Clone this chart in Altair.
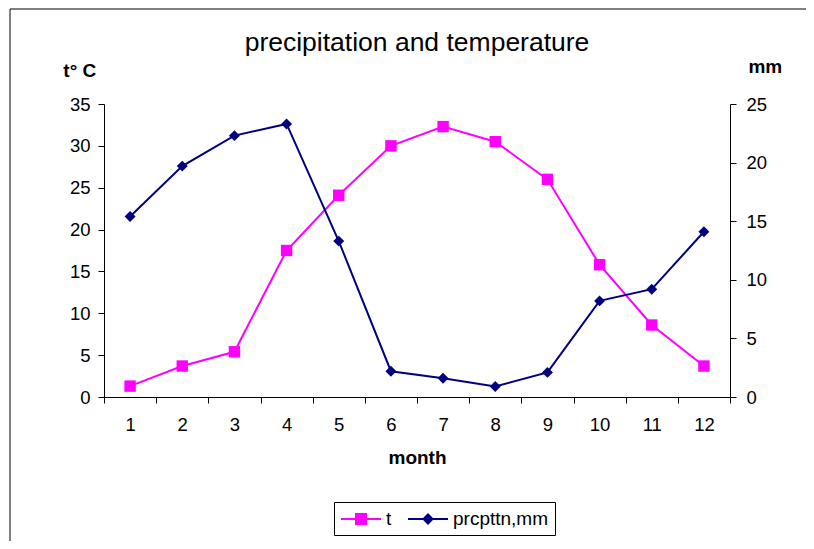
import altair as alt
import pandas as pd

months = [1, 2, 3, 4, 5, 6, 7, 8, 9, 10, 11, 12]
temperature = [1.3, 3.7, 5.4, 17.5, 24.1, 30.0, 32.3, 30.5, 26.0, 15.8, 8.6, 3.7]
precipitation = [15.4, 19.7, 22.3, 23.3, 13.3, 2.2, 1.6, 0.9, 2.1, 8.2, 9.2, 14.1]
series_names = ["t", "prcpttn,mm"]
series_colors = ["#FF00FF", "#000080"]
x_tick_values = [0.5 + 0.5 * i for i in range(25)]
temp_ticks = [0, 5, 10, 15, 20, 25, 30, 35]
precip_ticks = [0, 5, 10, 15, 20, 25]

df = pd.DataFrame({"month": months, "t": temperature, "p": precipitation})

FONT = "Liberation Sans"

x_enc = alt.X(
    "month:Q",
    scale=alt.Scale(domain=[0.5, 12.5], nice=False, zero=False),
    axis=alt.Axis(
        values=x_tick_values,
        labelExpr="datum.value % 1 === 0 ? format(datum.value, 'd') : ''",
        labelOverlap=False,
        labelFlush=False,
        tickOpacity={"condition": {"test": "datum.value % 1 !== 0", "value": 1}, "value": 0},
        title="month",
        titleFontWeight="bold",
        titleFontSize=19,
        titleBaseline="alphabetic",
        titleY=66,
        titleX=313,
        titleAlign="center",
        labelPadding=12,
        grid=False,
    ),
)

base = alt.Chart(df)

t_y = alt.Y(
    "t:Q",
    scale=alt.Scale(domain=[0, 35], nice=False),
    axis=alt.Axis(
        orient="left",
        values=temp_ticks,
        title="t° C",
        titleAngle=0,
        titleFontWeight="bold",
        titleFontSize=19,
        titleX=-24.7,
        titleY=-27.3,
        titleAlign="center",
        titleBaseline="alphabetic",
        labelPadding=8,
        grid=False,
    ),
)
t_line = base.mark_line(color=series_colors[0], strokeWidth=2).encode(x=x_enc, y=t_y)
t_pts = base.mark_point(shape="square", filled=True, size=130, opacity=1, color=series_colors[0]).encode(x=x_enc, y=t_y)
t_layer = alt.layer(t_line, t_pts)

p_y = alt.Y(
    "p:Q",
    scale=alt.Scale(domain=[0, 25], nice=False),
    axis=alt.Axis(
        orient="right",
        values=precip_ticks,
        title="mm",
        titleAngle=0,
        titleFontWeight="bold",
        titleFontSize=19,
        titleX=34.8,
        titleY=-31.3,
        titleAlign="center",
        titleBaseline="alphabetic",
        labelPadding=10,
        grid=False,
    ),
)
p_line = base.mark_line(color=series_colors[1], strokeWidth=2).encode(x=x_enc, y=p_y)
p_pts = base.mark_point(shape="diamond", filled=True, size=120, opacity=1, color=series_colors[1]).encode(x=x_enc, y=p_y)
p_layer = alt.layer(p_line, p_pts)

legend_shapes = [
    "M-1,0H3M0.5,-0.5H1.5V0.5H0.5Z",
    "M-1,0H3M1,-0.45L1.45,0L1,0.45L0.55,0Z",
]
leg = alt.Legend(
    orient="none",
    legendX=230,
    legendY=398,
    direction="horizontal",
    title=None,
    strokeColor="black",
    padding=6,
    labelFont=FONT,
    labelFontSize=19,
    labelColor="black",
    labelOffset=24,
    symbolSize=400,
    symbolStrokeWidth=2,
    columnPadding=12,
)
legend_layer = (
    alt.Chart(alt.Data(values=[{"s": n} for n in series_names]))
    .transform_filter("false")
    .mark_point(opacity=1, strokeWidth=2)
    .encode(
        shape=alt.Shape("s:N", scale=alt.Scale(domain=series_names, range=legend_shapes), legend=leg),
        fill=alt.Fill("s:N", scale=alt.Scale(domain=series_names, range=series_colors), legend=leg),
        stroke=alt.Stroke("s:N", scale=alt.Scale(domain=series_names, range=series_colors), legend=leg),
    )
)

frame = (
    alt.Chart(alt.Data(values=[{"f": 1}]))
    .mark_rect(fill="transparent", stroke="black", strokeWidth=1)
    .encode(x=alt.value(-94), y=alt.value(-95), x2=alt.value(1000), y2=alt.value(1000))
)

chart = (
    alt.layer(frame, t_layer, p_layer, legend_layer)
    .resolve_scale(y="independent")
    .properties(
        width=626,
        height=293,
        title=alt.Title(
            "precipitation and temperature",
            font=FONT,
            fontSize=26.5,
            fontWeight="normal",
            color="black",
            anchor="middle",
            frame="group",
            baseline="alphabetic",
            offset=0,
            dy=69,
        ),
        autosize=alt.AutoSizeParams(type="none"),
        padding={"left": 96, "top": 96, "right": 76, "bottom": 144},
    )
    .configure_view(stroke="transparent")
    .configure_axis(
        labelFont=FONT,
        titleFont=FONT,
        labelFontSize=18.5,
        labelColor="black",
        titleColor="black",
        domainColor="black",
        tickColor="black",
        tickSize=6,
        domainWidth=1,
        tickWidth=1,
    )
)

chart.save("out.html", embed_options={"renderer": "svg", "actions": False})
